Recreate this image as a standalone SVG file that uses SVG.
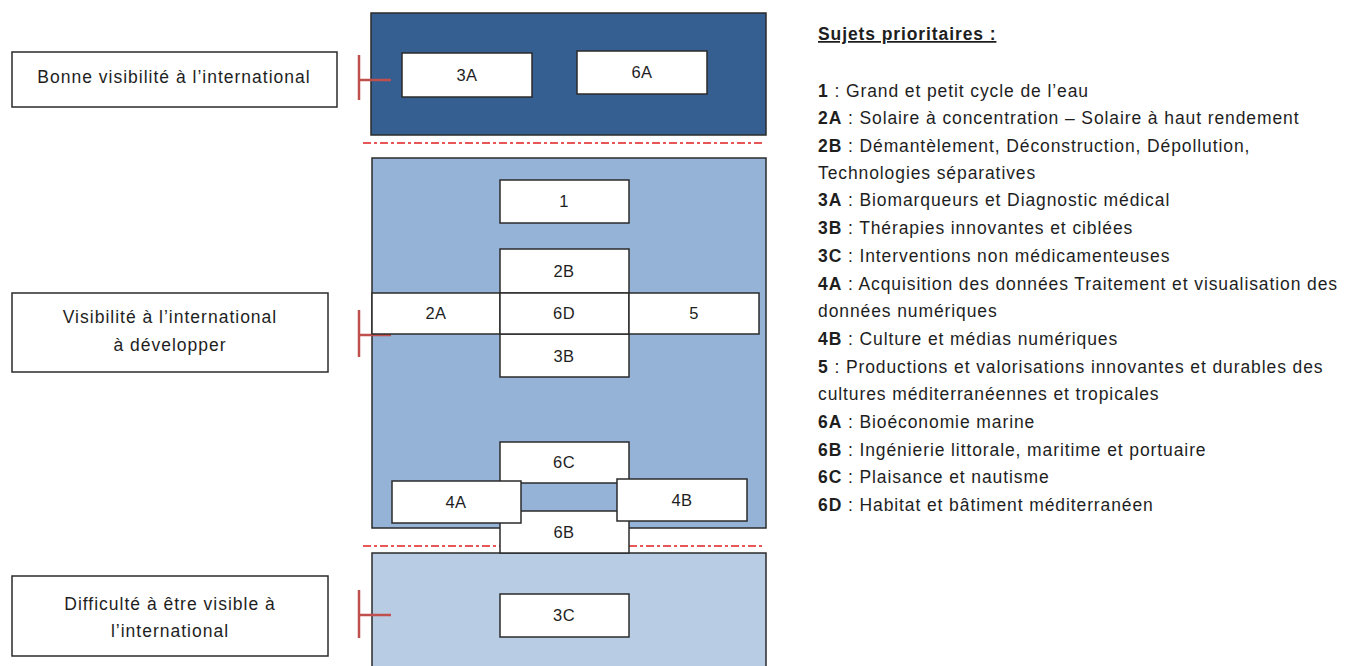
<svg xmlns="http://www.w3.org/2000/svg" width="1358" height="666" viewBox="0 0 1358 666">
<style>
.lbl{fill:#fff;stroke:#2b2b2b;stroke-width:1.5}
.box{fill:#fff;stroke:#2b2b2b;stroke-width:1.5}
.t{font-family:"Liberation Sans",Arial,sans-serif;font-size:16.5px;fill:#1e1e1e;text-anchor:middle;letter-spacing:0.5px}
.lt{font-family:"Liberation Sans",Arial,sans-serif;font-size:17.5px;fill:#1e1e1e;text-anchor:middle;letter-spacing:1px}
.lg{font-family:"Liberation Sans",Arial,sans-serif;font-size:17.5px;fill:#1e1e1e;letter-spacing:0.9px}
.lg tspan.b{font-weight:bold}
.br{stroke:#c0504d;stroke-width:2.5;fill:none}
.dash{stroke:#e02020;stroke-width:1.6;stroke-dasharray:8 3 3 3;fill:none}
.panel{stroke:#2b2b2b;stroke-width:1.5}
</style>
<rect width="1358" height="666" fill="#fff"/>
<g id="panels">
<rect class="panel" x="371" y="13" width="395" height="122" fill="#365f91"/>
<rect class="panel" x="372" y="158" width="394" height="370" fill="#95b3d7"/>
<rect class="panel" x="372" y="553" width="394" height="120" fill="#b8cce4"/>
</g>
<g id="separators">
<line class="dash" x1="363" y1="143" x2="764" y2="143"/>
<line class="dash" x1="363" y1="546" x2="500" y2="546"/>
<line class="dash" x1="629" y1="546" x2="765" y2="546"/>
</g>
<g id="label-bonne">
<rect class="lbl" x="12" y="52" width="325" height="55"/>
<text class="lt" x="174" y="83">Bonne visibilité à l’international</text>
</g>
<g id="label-developper">
<rect class="lbl" x="12" y="293" width="316" height="79"/>
<text class="lt" x="170" y="323">Visibilité à l’international</text>
<text class="lt" x="170" y="351">à développer</text>
</g>
<g id="label-difficulte">
<rect class="lbl" x="12" y="576" width="316" height="80"/>
<text class="lt" x="170" y="610">Difficulté à être visible à</text>
<text class="lt" x="170" y="637">l’international</text>
</g>
<g id="connectors">
<path class="br" d="M359 55V100M359 80H391"/>
<path class="br" d="M359 310V357M359 335H391"/>
<path class="br" d="M359 590V638M359 615H391"/>
</g>
<g id="n3A"><rect class="box" x="402" y="53" width="130" height="44"/><text class="t" x="467" y="81">3A</text></g>
<g id="n6A"><rect class="box" x="577" y="51" width="130" height="43"/><text class="t" x="642" y="78">6A</text></g>
<g id="n1"><rect class="box" x="500" y="180" width="129" height="43"/><text class="t" x="564" y="207">1</text></g>
<g id="n2B"><rect class="box" x="500" y="249" width="129" height="44"/><text class="t" x="564" y="277">2B</text></g>
<g id="n3B"><rect class="box" x="500" y="334" width="129" height="43"/><text class="t" x="564" y="362">3B</text></g>
<g id="n2A"><rect class="box" x="372" y="293" width="128" height="41"/><text class="t" x="436" y="319">2A</text></g>
<g id="n6D"><rect class="box" x="500" y="293" width="129" height="41"/><text class="t" x="564" y="319">6D</text></g>
<g id="n5"><rect class="box" x="629" y="293" width="130" height="41"/><text class="t" x="694" y="319">5</text></g>
<g id="n6C"><rect class="box" x="500" y="442" width="129" height="41"/><text class="t" x="564" y="468">6C</text></g>
<g id="n6B"><rect class="box" x="500" y="511" width="129" height="42"/><text class="t" x="564" y="538">6B</text></g>
<g id="n4A"><rect class="box" x="392" y="481" width="129" height="42"/><text class="t" x="456" y="508">4A</text></g>
<g id="n4B"><rect class="box" x="617" y="479" width="130" height="42"/><text class="t" x="682" y="506">4B</text></g>
<g id="n3C"><rect class="box" x="500" y="594" width="129" height="43"/><text class="t" x="564" y="621">3C</text></g>
<g id="legend">
<text class="lg" x="818" y="40" font-weight="bold" text-decoration="underline" letter-spacing="0">Sujets prioritaires :</text>
<text class="lg" x="818" y="97"><tspan class="b">1</tspan> : Grand et petit cycle de l’eau</text>
<text class="lg" x="818" y="124"><tspan class="b">2A</tspan> : Solaire à concentration – Solaire à haut rendement</text>
<text class="lg" x="818" y="152"><tspan class="b">2B</tspan> : Démantèlement, Déconstruction, Dépollution,</text>
<text class="lg" x="818" y="179">Technologies séparatives</text>
<text class="lg" x="818" y="206"><tspan class="b">3A</tspan> : Biomarqueurs et Diagnostic médical</text>
<text class="lg" x="818" y="234"><tspan class="b">3B</tspan> : Thérapies innovantes et ciblées</text>
<text class="lg" x="818" y="262"><tspan class="b">3C</tspan> : Interventions non médicamenteuses</text>
<text class="lg" x="818" y="290"><tspan class="b">4A</tspan> : Acquisition des données Traitement et visualisation des</text>
<text class="lg" x="818" y="317">données numériques</text>
<text class="lg" x="818" y="345"><tspan class="b">4B</tspan> : Culture et médias numériques</text>
<text class="lg" x="818" y="373"><tspan class="b">5</tspan> : Productions et valorisations innovantes et durables des</text>
<text class="lg" x="818" y="400">cultures méditerranéennes et tropicales</text>
<text class="lg" x="818" y="428"><tspan class="b">6A</tspan> : Bioéconomie marine</text>
<text class="lg" x="818" y="456"><tspan class="b">6B</tspan> : Ingénierie littorale, maritime et portuaire</text>
<text class="lg" x="818" y="483"><tspan class="b">6C</tspan> : Plaisance et nautisme</text>
<text class="lg" x="818" y="511"><tspan class="b">6D</tspan> : Habitat et bâtiment méditerranéen</text>
</g>
</svg>
